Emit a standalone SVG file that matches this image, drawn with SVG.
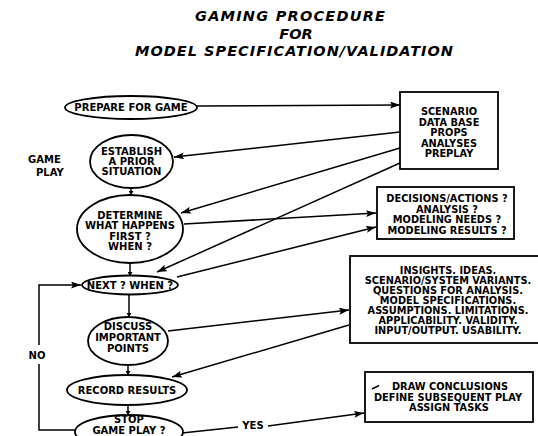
<svg xmlns="http://www.w3.org/2000/svg" width="538" height="436" viewBox="0 0 538 436">
<defs>
<marker id="ah" markerUnits="userSpaceOnUse" markerWidth="11" markerHeight="7" refX="10" refY="3.5" orient="auto">
<path d="M0,0 L10,3.5 L0,7 L2,3.5 z" fill="#000"/>
</marker>
<marker id="tk" markerUnits="userSpaceOnUse" markerWidth="5" markerHeight="5" refX="4" refY="2.5" orient="auto">
<path d="M0,0 L4,2.5 L0,5 z" fill="#000"/>
</marker>
</defs>
<style>
.t{font-family:"DejaVu Sans","Liberation Sans",sans-serif;font-weight:bold;fill:#000;text-anchor:middle}
.title{font-size:14.5px;font-style:italic}
.n{font-size:10px}
.b{font-size:9.8px}
.s{fill:#fff;stroke:#000;stroke-width:1.8}
.c{fill:none;stroke:#000;stroke-width:1.5}
.a{marker-end:url(#ah)}
.k{marker-end:url(#tk)}
</style>
<rect width="538" height="436" fill="#fff"/>
<g id="title">
<text class="t title" x="290" y="21" textLength="190" lengthAdjust="spacing">GAMING PROCEDURE</text>
<text class="t title" x="296" y="38.5">FOR</text>
<text class="t title" x="294" y="56" textLength="318" lengthAdjust="spacing">MODEL SPECIFICATION/VALIDATION</text>
</g>
<g id="label-gameplay">
<text class="t n" x="28" y="162.5" style="text-anchor:start">GAME</text>
<text class="t n" x="36" y="175.5" style="text-anchor:start">PLAY</text>
</g>
<g id="connectors">
<line class="c a" x1="197" y1="106" x2="400" y2="105"/>
<line class="c a" x1="400" y1="132" x2="174" y2="157"/>
<line class="c a" x1="400" y1="148" x2="181" y2="213"/>
<line class="c a" x1="400" y1="163" x2="157" y2="272"/>
<line class="c a" x1="184" y1="224" x2="376" y2="213"/>
<line class="c a" x1="177" y1="277" x2="376" y2="227"/>
<line class="c a" x1="168" y1="331" x2="349" y2="310"/>
<line class="c a" x1="349" y1="325" x2="172" y2="377"/>
<line class="c" x1="182" y1="433" x2="238" y2="427"/>
<line class="c a" x1="268" y1="426" x2="364" y2="413"/>
<polyline class="c" points="75,430 39,430 39,364"/>
<polyline class="c a" points="39,345 39,285 81,285"/>
<line class="c k" x1="131" y1="188" x2="131" y2="195"/>
<line class="c k" x1="130" y1="263" x2="130" y2="276"/>
<line class="c k" x1="129" y1="294" x2="129" y2="317"/>
<line class="c k" x1="128" y1="365" x2="128" y2="375"/>
<line class="c k" x1="128" y1="405" x2="128" y2="415"/>
<text class="t n" x="37" y="358.5">NO</text>
<text class="t n" x="253" y="429">YES</text>
</g>
<g id="prepare">
<ellipse class="s" cx="131" cy="107.5" rx="66" ry="11.5"/>
<text class="t n" x="131" y="111">PREPARE FOR GAME</text>
</g>
<g id="establish">
<ellipse class="s" cx="131.5" cy="161.5" rx="41.5" ry="26.5"/>
<text class="t n" x="131.5" y="154.6">ESTABLISH</text>
<text class="t n" x="131.5" y="164.6">A PRIOR</text>
<text class="t n" x="131.5" y="174.6">SITUATION</text>
</g>
<g id="determine">
<ellipse class="s" cx="130" cy="229" rx="53" ry="34"/>
<text class="t n" x="130" y="218.5">DETERMINE</text>
<text class="t n" x="130" y="229">WHAT HAPPENS</text>
<text class="t n" x="130" y="239.5">FIRST ?</text>
<text class="t n" x="130" y="250">WHEN ?</text>
</g>
<g id="next">
<ellipse class="s" cx="130" cy="285" rx="48" ry="9.5"/>
<text class="t n" x="130" y="288.6">NEXT ? WHEN ?</text>
</g>
<g id="discuss">
<ellipse class="s" cx="128" cy="341" rx="40" ry="24"/>
<text class="t n" x="128" y="329.6">DISCUSS</text>
<text class="t n" x="128" y="340.6">IMPORTANT</text>
<text class="t n" x="128" y="351.6">POINTS</text>
</g>
<g id="record">
<ellipse class="s" cx="127" cy="390" rx="60" ry="15"/>
<text class="t n" x="127" y="393.6">RECORD RESULTS</text>
</g>
<g id="stop">
<ellipse class="s" cx="129" cy="432" rx="54" ry="17"/>
<text class="t n" x="129" y="423">STOP</text>
<text class="t n" x="129" y="434">GAME PLAY ?</text>
</g>
<g id="scenario">
<rect class="s" x="400" y="92" width="98" height="77"/>
<text class="t b" x="449" y="115.4">SCENARIO</text>
<text class="t b" x="449" y="125.9">DATA BASE</text>
<text class="t b" x="449" y="136.4">PROPS</text>
<text class="t b" x="449" y="146.9">ANALYSES</text>
<text class="t b" x="449" y="157.4">PREPLAY</text>
</g>
<g id="decisions">
<rect class="s" x="377" y="187" width="137" height="52"/>
<text class="t b" x="447" y="202.4">DECISIONS/ACTIONS ?</text>
<text class="t b" x="447" y="212.9">ANALYSIS ?</text>
<text class="t b" x="447" y="223.4">MODELING NEEDS ?</text>
<text class="t b" x="447" y="233.9">MODELING RESULTS ?</text>
</g>
<g id="insights">
<rect class="s" x="350" y="256" width="192" height="87"/>
<text class="t b" x="448" y="274.4">INSIGHTS. IDEAS.</text>
<text class="t b" x="448" y="284.3">SCENARIO/SYSTEM VARIANTS.</text>
<text class="t b" x="448" y="294.2">QUESTIONS FOR ANALYSIS.</text>
<text class="t b" x="448" y="304.1">MODEL SPECIFICATIONS.</text>
<text class="t b" x="448" y="314">ASSUMPTIONS. LIMITATIONS.</text>
<text class="t b" x="448" y="323.9">APPLICABILITY. VALIDITY.</text>
<text class="t b" x="448" y="333.8">INPUT/OUTPUT. USABILITY.</text>
</g>
<g id="conclusions">
<rect class="s" x="365" y="372" width="168" height="50"/>
<line x1="372" y1="389" x2="379" y2="385.5" stroke="#000" stroke-width="1.5"/>
<text class="t b" x="450" y="390.4">DRAW CONCLUSIONS</text>
<text class="t b" x="448" y="401.4">DEFINE SUBSEQUENT PLAY</text>
<text class="t b" x="449" y="411.4">ASSIGN TASKS</text>
</g>
</svg>
